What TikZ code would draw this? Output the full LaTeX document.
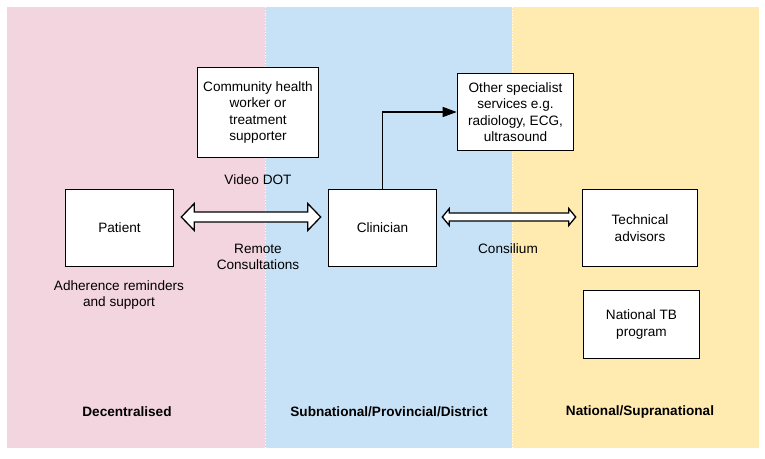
\documentclass[tikz,border=0pt]{standalone}
\usepackage{fontspec}
\setmainfont{Liberation Sans}
\usetikzlibrary{calc,arrows.meta}
\definecolor{pinkbg}{RGB}{243,213,223}
\definecolor{bluebg}{RGB}{199,226,246}
\definecolor{yellowbg}{RGB}{255,235,176}
\newcommand{\blockarrow}[5]{%
  \draw[barrow] (#1) -- ++(#5,-#4) -- ++(0,{#4-#3}) -- ($(#2)+(-#5,-#3)$) -- ++(0,{#3-#4})
    -- (#2) -- ++(-#5,#4) -- ++(0,{#3-#4}) -- ($(#1)+(#5,#3)$) -- ++(0,{#4-#3}) -- cycle;}
\begin{document}
\begin{tikzpicture}[x=1pt,y=-1pt,
  font=\fontsize{13.6}{16.5}\selectfont,
  box/.style={draw=black, line width=1.6pt, fill=white, align=center, inner sep=2pt},
  lbl/.style={align=center},
  head/.style={font=\fontsize{13.6}{16.5}\selectfont\bfseries},
  barrow/.style={draw=black, fill=white, line width=1.3pt, line join=miter},
  divider/.style={draw=white, dotted, line width=0.8pt}]
\useasboundingbox (0,0) rectangle (765,458);
% panels
\fill[pinkbg] (7,7) rectangle (265,448);
\fill[bluebg] (265,7) rectangle (512,448);
\fill[yellowbg] (512,7) rectangle (759,448);
\draw[divider] (265,7) -- (265,448);
\draw[divider] (512,7) -- (512,448);
% boxes
\node[box, minimum width=121pt, minimum height=90pt] (chw) at (258,112.5) {Community health\\worker or\\treatment\\supporter};
\node[box, minimum width=108pt, minimum height=77pt] (patient) at (119.5,228) {Patient};
\node[box, minimum width=108pt, minimum height=77pt] (clin) at (382.5,228) {Clinician};
\node[box, minimum width=116pt, minimum height=77pt] (other) at (515.5,112) {Other specialist\\services e.g.\\radiology, ECG,\\ultrasound};
\node[box, minimum width=115pt, minimum height=77pt] (tech) at (640,228) {Technical\\advisors};
\node[box, minimum width=116pt, minimum height=68pt] (ntb) at (641.5,324.5) {National TB\\program};
% labels
\node[lbl] (video) at (258,180) {Video DOT};
\node[lbl] (remote) at (258,257) {Remote\\Consultations};
\node[lbl] (adh) at (119,295) {Adherence reminders\\and support};
\node[lbl] (consil) at (508,249) {Consilium};
\node[head] (h1) at (127,412) {Decentralised};
\node[head] (h2) at (389,412) {Subnational/Provincial/District};
\node[head] (h3) at (640,412) {National/Supranational};
% connectors
\coordinate (a1) at ($(patient.east)+(7,-11)$);
\coordinate (a2) at ($(clin.west)+(-7,-11)$);
\blockarrow{a1}{a2}{5}{13.5}{13}
\coordinate (c1) at ($(clin.east)+(5,-11)$);
\coordinate (c2) at ($(tech.west)+(-6,-11)$);
\blockarrow{c1}{c2}{4}{8.5}{7}
\draw[line width=1.3pt, -{Triangle[length=14pt,width=10pt]}] (clin.north) |- (other.west);
\end{tikzpicture}
\end{document}
